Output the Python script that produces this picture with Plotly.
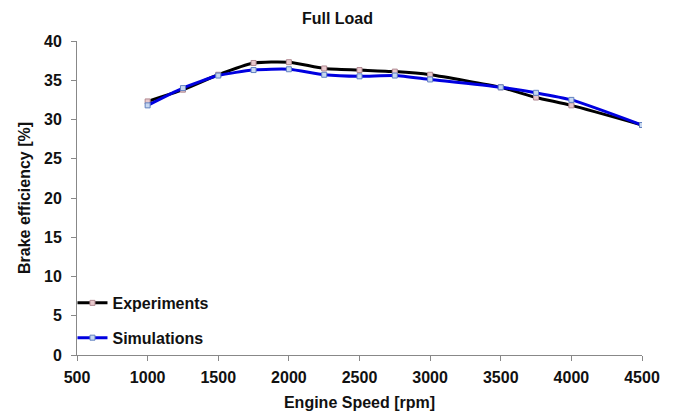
import plotly.graph_objects as go

speed = [1000, 1250, 1500, 1750, 2000, 2250, 2500, 2750, 3000, 3500, 3750, 4000, 4500]
experiments = [32.3, 33.8, 35.7, 37.2, 37.3, 36.5, 36.3, 36.1, 35.7, 34.1, 32.8, 31.8, 29.3]
simulations = [31.8, 34.0, 35.6, 36.3, 36.4, 35.7, 35.5, 35.6, 35.1, 34.1, 33.4, 32.5, 29.3]

x_ticks = [500, 1000, 1500, 2000, 2500, 3000, 3500, 4000, 4500]
y_ticks = [0, 5, 10, 15, 20, 25, 30, 35, 40]

FONT = "Liberation Sans, Arial, sans-serif"

fig = go.Figure()
fig.add_trace(go.Scatter(
    x=speed, y=experiments, name="<b>Experiments</b>", mode="lines+markers",
    legendgroup="exp",
    line=dict(color="#000000", width=3, shape="spline", smoothing=0.6),
    marker=dict(symbol="square", size=5, color="#e8c8cc",
                line=dict(color="#b08890", width=1)),
))
fig.add_trace(go.Scatter(
    x=speed, y=simulations, name="<b>Simulations</b>", mode="lines+markers",
    legendgroup="sim",
    line=dict(color="#0000e0", width=3, shape="spline", smoothing=0.6),
    marker=dict(symbol="square", size=5, color="#c8d8f0",
                line=dict(color="#6080c0", width=1)),
))

fig.update_layout(
    width=675, height=419,
    margin=dict(l=77, r=33, t=41, b=64),
    paper_bgcolor="white", plot_bgcolor="white",
    font=dict(family=FONT, color="#111111"),
    title=dict(text="<b>Full Load</b>", x=0.5, xanchor="center", y=0.957,
               yanchor="middle", font=dict(size=16)),
    showlegend=True,
    legend=dict(x=-0.008, y=0.11, xanchor="left", yanchor="middle",
                bgcolor="rgba(0,0,0,0)", font=dict(size=16),
                itemwidth=30, tracegroupgap=11),
    xaxis=dict(
        range=[500, 4500], tickvals=x_ticks,
        ticktext=[f"<b>{v}</b>" for v in x_ticks],
        showgrid=False, zeroline=False, showline=True,
        linecolor="#888888", linewidth=1,
        ticks="outside", ticklen=5, tickcolor="#888888",
        tickfont=dict(size=16), ticklabelstandoff=3,
        title=dict(text="<b>Engine Speed [rpm]</b>", font=dict(size=16), standoff=11),
    ),
    yaxis=dict(
        range=[0, 40], tickvals=y_ticks,
        ticktext=[f"<b>{v}</b>" for v in y_ticks],
        showgrid=False, zeroline=False, showline=True,
        linecolor="#888888", linewidth=1,
        ticks="outside", ticklen=5, tickcolor="#888888",
        tickfont=dict(size=16), ticklabelstandoff=6,
        title=dict(text="<b>Brake efficiency [%]</b>", font=dict(size=16), standoff=9),
    ),
)

fig.write_html("out.html")
